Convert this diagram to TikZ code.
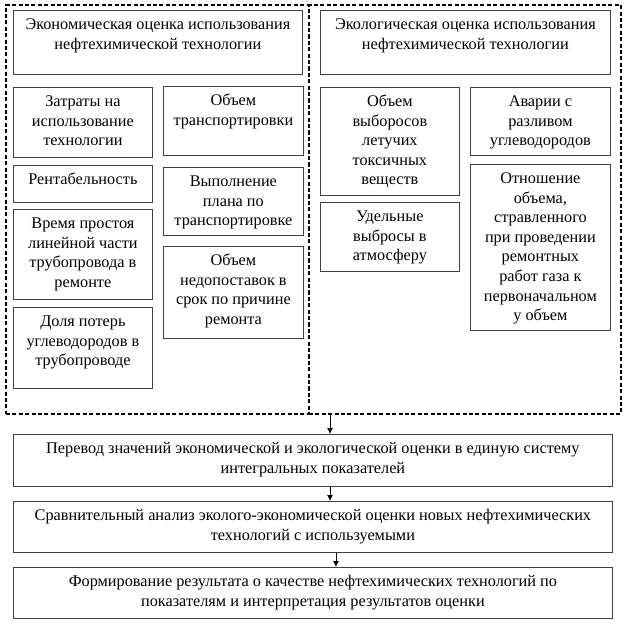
\documentclass[tikz,border=0pt]{standalone}
\usepackage{fontspec}
\setmainfont{Liberation Serif}
\usetikzlibrary{arrows.meta}
\newlength{\pxu}
\setlength{\pxu}{0.75pt}
\newcommand{\cellbox}[3]{\parbox[t][#2\pxu][t]{#1\pxu}{\fontsize{12.2pt}{14.7pt}\selectfont\centering\rule{0pt}{14.3pt}#3}}
\begin{document}
\begin{tikzpicture}[x=0.75pt,y=-0.75pt,
	cell/.style={draw=black!75,line width=0.6pt,anchor=north west,inner sep=0pt},
	frame/.style={draw,line width=1.4pt,dash pattern=on 3pt off 1.8pt,anchor=north west,inner sep=0pt},
	flow/.style={-{Latex[length=4.5pt,width=4.5pt]},line width=0.6pt}]
	\useasboundingbox (0,0) rectangle (624,624);
	\node [frame,minimum width=303\pxu,minimum height=409\pxu] (econ) at (5,4) {};
	\node [frame,minimum width=312\pxu,minimum height=409\pxu] (ecol) at (308,4) {};
	\node [cell] (hdrEcon) at (13,10) {\cellbox{289}{64}{Экономическая оценка использования\\нефтехимической технологии}};
	\node [cell] (costs) at (13,87) {\cellbox{139}{70}{Затраты на\\использование\\технологии}};
	\node [cell] (profit) at (13,165) {\cellbox{139}{37}{Рентабельность}};
	\node [cell] (downtime) at (13,209) {\cellbox{139}{90}{Время простоя\\линейной части\\трубопровода в\\ремонте}};
	\node [cell] (losses) at (13,307) {\cellbox{139}{81}{Доля потерь\\углеводородов в\\трубопроводе}};
	\node [cell] (transport) at (163,86) {\cellbox{140}{69}{Объем\\транспортировки}};
	\node [cell] (plan) at (163,167) {\cellbox{140}{68}{Выполнение\\плана по\\транспортировке}};
	\node [cell] (shortfall) at (163,246) {\cellbox{140}{92}{Объем\\недопоставок в\\срок по причине\\ремонта}};
	\node [cell] (hdrEcol) at (320,10) {\cellbox{290}{64}{Экологическая оценка использования\\нефтехимической технологии}};
	\node [cell] (emiss) at (320,87) {\cellbox{139}{108}{Объем\\выборосов\\летучих\\токсичных\\веществ}};
	\node [cell] (specific) at (320,202) {\cellbox{139}{69}{Удельные\\выбросы в\\атмосферу}};
	\node [cell] (spill) at (470,87) {\cellbox{140}{68}{Аварии с\\разливом\\углеводородов}};
	\node [cell] (ratio) at (470,164) {\cellbox{140}{166}{Отношение\\объема,\\стравленного\\при проведении\\ремонтных\\работ газа к\\первоначальном\\у объем}};
	\node [cell] (convert) at (13,434) {\cellbox{599}{52}{Перевод значений экономической и экологической оценки в единую систему\\интегральных показателей}};
	\node [cell] (compare) at (13,501) {\cellbox{599}{51}{Сравнительный анализ эколого-экономической оценки новых нефтехимических\\технологий с используемыми}};
	\node [cell] (result) at (13,567) {\cellbox{599}{51}{Формирование результата о качестве нефтехимических технологий по\\показателям и интерпретация результатов оценки}};
	\coordinate (out) at (330,413);
	\coordinate (mid) at (336,0);
	\draw [flow] (out) -- (out |- convert.north);
	\draw [flow] (convert.south -| out) -- (compare.north -| out);
	\draw [flow] (compare.south -| mid) -- (result.north -| mid);
\end{tikzpicture}
\end{document}
